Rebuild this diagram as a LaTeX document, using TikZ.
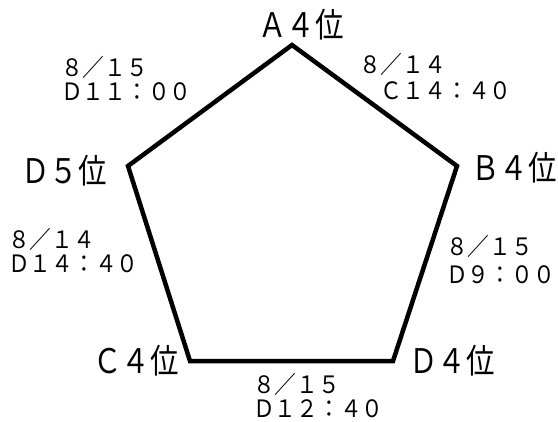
\documentclass[tikz,border=0pt]{standalone}
\usepackage{fontspec}
\newfontfamily\jpbig[FakeStretch=0.84]{Noto Sans CJK JP}
\newfontfamily\jpsmall[FakeStretch=0.91]{Noto Sans CJK JP}
\begin{document}
\begin{tikzpicture}[x=1bp,y=-1bp,
  vlabel/.style={inner sep=0pt,anchor=base west,font=\jpbig\fontsize{34}{34}\selectfont},
  elabel/.style={inner sep=0pt,anchor=base west,font=\jpsmall\fontsize{24}{25}\selectfont},
  edge/.style={line width=4.5bp,line join=miter}]
\useasboundingbox (0,0) rectangle (558,421);
\coordinate (A) at (292,45);
\coordinate (B) at (457,166);
\coordinate (D4) at (393,361);
\coordinate (C) at (190,361);
\coordinate (D5) at (128,166);
\draw[edge] (A) -- (B) -- (D4) -- (C) -- (D5) -- cycle;
\node[vlabel] (nA) at (258,37) {Ａ４位};
\node[vlabel] (nB) at (471,180) {Ｂ４位};
\node[vlabel] (nD5) at (21,183) {Ｄ５位};
\node[vlabel] (nD4) at (409,373) {Ｄ４位};
\node[vlabel] (nC) at (93,373) {Ｃ４位};
\node[elabel] (e1a) at (61,76) {８／１５};
\node[elabel] (e1b) at (61,100) {Ｄ１１：００};
\node[elabel] (e2a) at (359,73) {８／１４};
\node[elabel] (e2b) at (359,99) {　Ｃ１４：４０};
\node[elabel] (e3a) at (8,248) {８／１４};
\node[elabel] (e3b) at (8,272) {Ｄ１４：４０};
\node[elabel] (e4a) at (446,255) {８／１５};
\node[elabel] (e4b) at (446,283) {Ｄ９：００};
\node[elabel] (e5a) at (253,393) {８／１５};
\node[elabel] (e5b) at (253,417) {Ｄ１２：４０};
\end{tikzpicture}
\end{document}
